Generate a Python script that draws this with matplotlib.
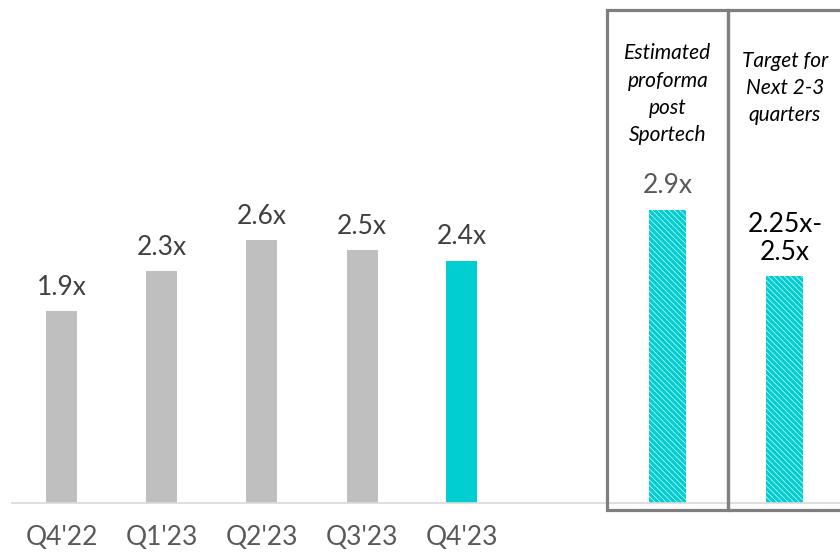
import matplotlib.pyplot as plt
from matplotlib.patches import Rectangle

# actual quarters
quarters = ["Q4'22", "Q1'23", "Q2'23", "Q3'23", "Q4'23"]
leverage = [1.9, 2.3, 2.6, 2.5, 2.4]
leverage_labels = ["1.9x", "2.3x", "2.6x", "2.5x", "2.4x"]

# forward-looking columns
fwd_titles = ["Estimated\nproforma\npost\nSportech", "Target for\nNext 2-3\nquarters"]
fwd_values = [2.9, 2.25]
fwd_labels = ["2.9x", "2.25x-\n2.5x"]

GRAY = "#BFBFBF"
TEAL = "#00CED1"
plt.rcParams["font.family"] = ["Lato", "DejaVu Sans"]
plt.rcParams["hatch.linewidth"] = 2.4

fig = plt.figure(figsize=(8.4, 5.6), dpi=100)
ax = fig.add_axes([12 / 840, 57 / 560, 828 / 840, 503 / 560])

x = list(range(len(quarters)))
colors = [GRAY] * (len(quarters) - 1) + [TEAL]
bars = ax.bar(x, leverage, width=0.31, color=colors)
for b, lab in zip(bars, leverage_labels):
    ax.annotate(lab, (b.get_x() + b.get_width() / 2, b.get_height()),
                xytext=(0, 8), textcoords="offset points",
                ha="center", va="bottom", fontsize=19, color="#404040")

fwd_x = [6.06, 7.23]
fwd_bars = ax.bar(fwd_x, fwd_values, width=0.37, color="white",
                  edgecolor=TEAL, linewidth=0, hatch="\\\\\\\\\\\\")

# framed boxes round the forward columns
box_edges = [5.45, 6.66, 7.83]
title_y = [4.55, 4.48]
for i in range(2):
    ax.add_patch(Rectangle((box_edges[i], -0.07), box_edges[i + 1] - box_edges[i], 4.95,
                           fill=False, edgecolor="#7F7F7F", linewidth=2.3, clip_on=False, zorder=3))
    ax.text(fwd_x[i], title_y[i], fwd_titles[i], ha="center", va="top", fontsize=15,
            style="italic", color="black", linespacing=1.45)

ax.annotate(fwd_labels[0], (fwd_x[0], fwd_values[0]), xytext=(0, 9), textcoords="offset points",
            ha="center", va="bottom", fontsize=19, color="#595959")
ax.annotate(fwd_labels[1], (fwd_x[1], fwd_values[1]), xytext=(0, 8), textcoords="offset points",
            ha="center", va="bottom", fontsize=19, color="black", linespacing=1.15)

ax.set_xlim(-0.5, 7.78)
ax.set_ylim(0, 4.98)
ax.set_xticks(x)
ax.set_xticklabels(quarters, fontsize=19, color="#595959")
ax.tick_params(axis="x", length=0, pad=16)
ax.set_yticks([])
for s in ["top", "right", "left"]:
    ax.spines[s].set_visible(False)
ax.spines["bottom"].set_color("#D9D9D9")
ax.spines["bottom"].set_linewidth(1.2)

fig.savefig("out.png", dpi=100)
